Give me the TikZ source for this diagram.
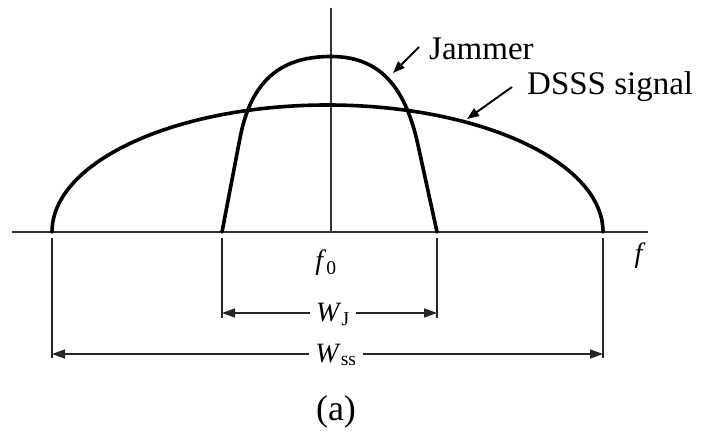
\documentclass[tikz,border=0pt]{standalone}
\usepackage{fontspec}
\setmainfont{Liberation Serif}
\usetikzlibrary{arrows.meta}
\begin{document}
\begin{tikzpicture}[x=1pt,y=1pt,
  axisline/.style={line width=1.6pt, draw=black!80},
  curve/.style={line width=3.6pt, line join=round, line cap=round},
  dim/.style={line width=1.6pt, draw=black!85},
  dimarrow/.style={line width=1.6pt, draw=black!85, -{Triangle[length=13pt,width=9pt]}},
  ptr/.style={line width=1.9pt, -{Triangle[length=12pt,width=9pt]}},
  lbl/.style={font=\fontsize{33}{36}\selectfont, inner sep=0pt},
  mlbl/.style={font=\fontsize{28}{30}\selectfont, inner xsep=6pt, inner ysep=0pt}]
\useasboundingbox (0,0) rectangle (706,431);

% axes
\coordinate (axL) at (12,199);
\coordinate (axR) at (648,199);
\coordinate (vtop) at (331,423);
\coordinate (vbot) at (331,199);
\draw[axisline] (axL) -- (axR);
\draw[axisline] (vtop) -- (vbot);

% DSSS signal
\coordinate (dsL) at (52,199);
\coordinate (dsR) at (603,199);
\draw[curve] (dsL) arc[start angle=180, end angle=0, x radius=275.5, y radius=127];

% Jammer
\coordinate (jmL) at (222,199);
\coordinate (jmR) at (437,199);
\draw[curve] (jmL) -- (240,293) .. controls (251.7,353.9) and (284,374.5) .. (331,374.5)
  .. controls (378,374.5) and (404.8,346.6) .. (418,286) -- (jmR);

% labels with pointers
\node[lbl, anchor=base west] (jam) at (429,371) {Jammer};
\node[lbl, anchor=base west] (dsss) at (527,336) {DSSS signal};
\coordinate (jtail) at (419,384);
\coordinate (jtip) at (393,358);
\coordinate (dtail) at (512,344);
\coordinate (dtip) at (467,312);
\draw[ptr] (jtail) -- (jtip);
\draw[ptr] (dtail) -- (dtip);

% axis labels
\node[mlbl] (f0) at (326,168) {\textit{f}\textsubscript{0}};
\node[mlbl] (f) at (640,175) {\textit{f}};

% dimension lines
\coordinate (tjLt) at (222,193);
\coordinate (tjLb) at (222,113);
\coordinate (tjRt) at (437,193);
\coordinate (tjRb) at (437,113);
\coordinate (tsLt) at (52,193);
\coordinate (tsLb) at (52,73);
\coordinate (tsRt) at (603,193);
\coordinate (tsRb) at (603,73);
\draw[dim] (tjLt) -- (tjLb);
\draw[dim] (tjRt) -- (tjRb);
\draw[dim] (tsLt) -- (tsLb);
\draw[dim] (tsRt) -- (tsRb);

\coordinate (wjL) at (222,118);
\coordinate (wjR) at (437,118);
\coordinate (wsL) at (52,77);
\coordinate (wsR) at (603,77);
\node[mlbl, anchor=base] (wj) at (333,110) {\textit{W}\textsubscript{J}};
\node[mlbl, anchor=base] (ws) at (336,69) {\textit{W}\textsubscript{ss}};
\draw[dimarrow] (wj.west |- wjL) -- (wjL);
\draw[dimarrow] (wj.east |- wjR) -- (wjR);
\draw[dimarrow] (ws.west |- wsL) -- (wsL);
\draw[dimarrow] (ws.east |- wsR) -- (wsR);

\node[lbl, font=\fontsize{36}{40}\selectfont] (cap) at (336,19) {(a)};
\end{tikzpicture}
\end{document}
